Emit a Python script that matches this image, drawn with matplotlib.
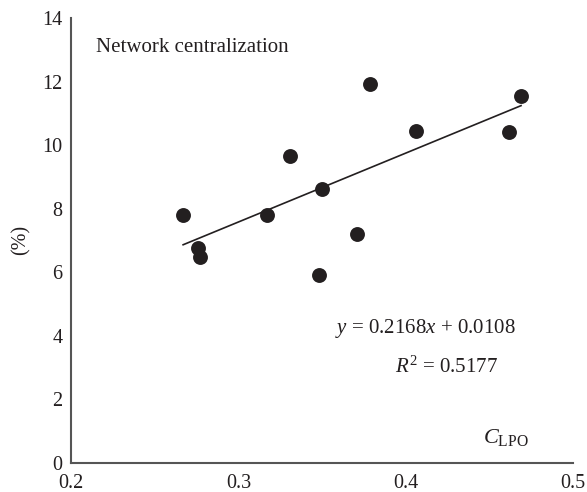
import numpy as np
import matplotlib
matplotlib.use("Agg")
from matplotlib import pyplot as plt

# data
c_lpo = [0.267, 0.276, 0.277, 0.317, 0.331, 0.350, 0.348, 0.371, 0.379, 0.406, 0.462, 0.469]
centralization = [7.82, 6.77, 6.47, 7.82, 9.66, 8.62, 5.93, 7.22, 11.94, 10.45, 10.41, 11.54]
slope = 0.2168
intercept = 0.0108
r2 = 0.5177
x_ticks = [0.2, 0.3, 0.4, 0.5]
y_ticks = [0, 2, 4, 6, 8, 10, 12, 14]

plt.rcParams['font.family'] = ['Liberation Serif', 'DejaVu Serif']
plt.rcParams['mathtext.fontset'] = 'custom'
plt.rcParams['mathtext.rm'] = 'Liberation Serif'
plt.rcParams['mathtext.it'] = 'Liberation Serif:italic'

ink = '#231f20'
fig = plt.figure(figsize=(5.87, 4.92), dpi=100)
ax = fig.add_axes([0.121, 0.059, 0.855, 0.904])

ax.scatter(c_lpo, centralization, s=115, color=ink, zorder=3, linewidths=0)

# trend line (fit is in fractions, plot in %)
xl = np.array([min(c_lpo), max(c_lpo)])
ax.plot(xl, (slope * xl + intercept) * 100, color=ink, linewidth=1.2, zorder=2)

ax.set_xlim(0.2, 0.5)
ax.set_ylim(0, 14)
ax.set_xticks(x_ticks)
ax.set_xticklabels([str(t) for t in x_ticks])
ax.set_yticks(y_ticks)
ax.tick_params(length=0, labelsize=14.5, colors=ink)
ax.tick_params(axis='y', pad=6)
ax.tick_params(axis='x', pad=8)

for s in ['top', 'right']:
    ax.spines[s].set_visible(False)
for s in ['left', 'bottom']:
    ax.spines[s].set_color('#555555')
    ax.spines[s].set_linewidth(1.5)

ax.text(0.05, 0.935, 'Network centralization', transform=ax.transAxes,
        fontsize=15, color=ink, va='center', ha='left')
fig.text(0.036, 0.512, '(%)', rotation=90, fontsize=14.5, color=ink,
         va='center', ha='center')
ax.text(0.526, 0.303, '$y$ = %.4f$x$ + %.4f' % (slope, intercept),
        transform=ax.transAxes, fontsize=15, color=ink, va='center')
ax.text(0.645, 0.216, '$R^2$ = %.4f' % r2,
        transform=ax.transAxes, fontsize=15, color=ink, va='center')
ax.text(0.82, 0.058, '$C_{\\rm LPO}$', transform=ax.transAxes,
        fontsize=16, color=ink, va='center')

fig.savefig('out.png', dpi=100)
